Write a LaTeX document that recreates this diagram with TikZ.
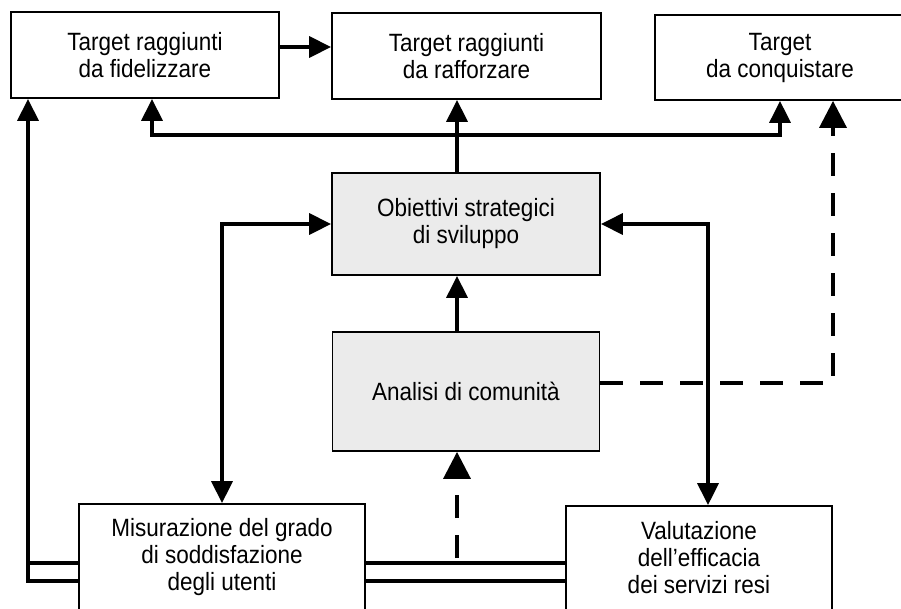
\documentclass[tikz,border=0pt]{standalone}
\usepackage{fontspec}
\setmainfont{Liberation Sans}[FakeStretch=0.9]
\usetikzlibrary{arrows.meta}

\begin{document}
\begin{tikzpicture}[x=1pt,y=-1pt,
  box/.style={draw,line width=1.8pt,align=center,inner sep=0pt,
    font=\fontsize{25}{27}\selectfont},
  grigio/.style={box,fill=black!8},
  linea/.style={line width=3.4pt},
  spessa/.style={line width=4.6pt},
  freccia/.style={linea,-{Triangle[length=22pt,width=21pt]}},
  doppia/.style={linea,{Triangle[length=22pt,width=21pt]}-{Triangle[length=22pt,width=21pt]}},
  tratt/.style={line width=3.6pt,dash pattern=on 23pt off 17pt,
    -{Triangle[length=27pt,width=27pt]}}]

  \useasboundingbox (0,0) rectangle (901,608);

  \node[box,minimum width=268pt,minimum height=86pt] (fid) at (145,55) {Target raggiunti\\da fidelizzare};
  \node[box,minimum width=269pt,minimum height=86pt] (raf) at (466.5,56) {Target raggiunti\\da rafforzare};
  \node[box,minimum width=250pt,minimum height=85pt] (conq) at (780,57.5) {Target\\da conquistare};

  \node[grigio,minimum width=268pt,minimum height=102pt] (obiet) at (466,224) {Obiettivi strategici\\di sviluppo};
  \node[grigio,minimum width=267pt,minimum height=119pt] (anal) at (466,391.5) {Analisi di comunità};

  \node[box,minimum width=286pt,minimum height=106pt] (misur) at (222,557) {Misurazione del grado\\di soddisfazione\\degli utenti};
  \node[box,minimum width=266pt,minimum height=104pt] (valut) at (699,558) {Valutazione\\dell’efficacia\\dei servizi resi};

  \coordinate (bivio) at (457,135);
  \coordinate (pf) at (152,135);
  \coordinate (pc) at (780,135);
  \coordinate (lato) at (28,581);
  \coordinate (alto) at (0,563);
  \coordinate (basso) at (0,581);
  \coordinate (pd) at (833,383);
  \coordinate (pt) at (457,558);

  \draw[freccia] ([yshift=8pt]fid.east) -- ([yshift=8pt]fid.east -| raf.west);

  \draw[linea] (obiet.north -| bivio) -- (bivio);
  \draw[freccia] (bivio) -- (raf.south -| bivio);
  \draw[freccia] (bivio) -- (pf) -- (pf |- fid.south);
  \draw[freccia] (bivio) -- (pc) -- (pc |- conq.south);

  \draw[freccia] (anal.north -| bivio) -- (obiet.south -| bivio);
  \draw[doppia] (obiet.west) -| (misur.north);
  \draw[doppia] (obiet.east) -| ([xshift=9pt]valut.north);

  \draw[tratt] (anal.east |- pd) -- (pd) -- (pd |- conq.south);
  \draw[tratt] (pt) -- (anal.south -| pt);

  \draw[spessa] (misur.west |- alto) -- (lato |- alto);
  \draw[freccia] (misur.west |- basso) -- (lato) -- (lato |- fid.south);
  \draw[spessa] (misur.east |- alto) -- (valut.west |- alto);
  \draw[linea] (misur.east |- basso) -- (valut.west |- basso);

\end{tikzpicture}
\end{document}
